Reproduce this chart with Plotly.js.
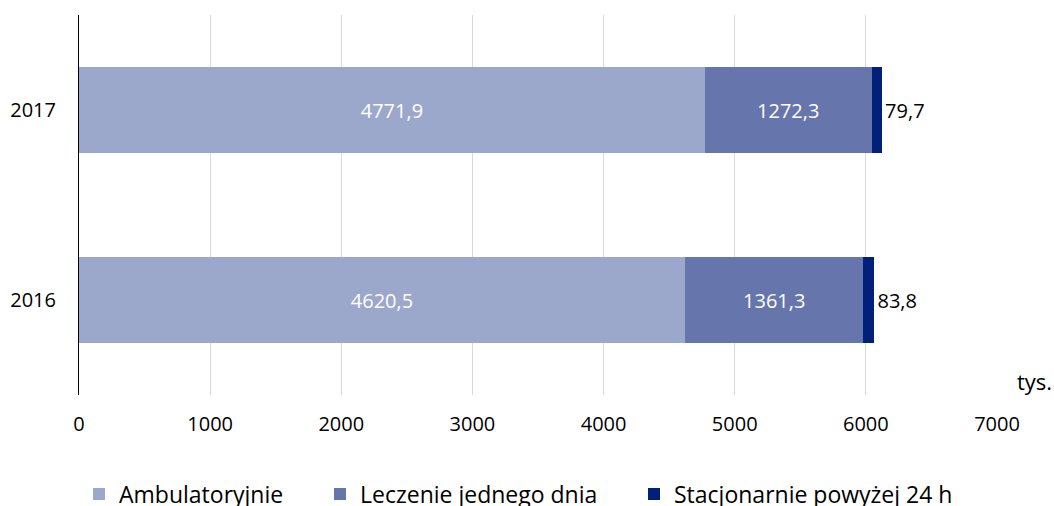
<!DOCTYPE html>
<html>
<head>
<meta charset="utf-8">
<script src="https://cdn.plot.ly/plotly-3.0.1.min.js"></script>
<style>html,body{margin:0;padding:0;background:#fff;}#chart{width:1054px;height:506px;}</style>
</head>
<body>
<div id="chart"></div>
<script>
var years = ["2016", "2017"];
var ambulatoryjnie = [4620.5, 4771.9];
var leczenieJednegoDnia = [1361.3, 1272.3];
var stacjonarnie = [83.8, 79.7];
var seriesNames = ["Ambulatoryjnie", "Leczenie jednego dnia", "Stacjonarnie powyżej 24 h"];
var xTicks = [0, 1000, 2000, 3000, 4000, 5000, 6000, 7000];

var FONT = "Open Sans, DejaVu Sans, sans-serif";
var colors = ["#9ba7cb", "#6676ad", "#00207a"];

var traces = [
  {type: "bar", orientation: "h", name: seriesNames[0], y: years, x: ambulatoryjnie, legend: "legend",
   marker: {color: colors[0]}, texttemplate: "%{x:.1f}", textposition: "inside", insidetextanchor: "middle",
   textfont: {color: "#ffffff", size: 20, family: FONT}, hoverinfo: "x+name"},
  {type: "bar", orientation: "h", name: seriesNames[1], y: years, x: leczenieJednegoDnia, legend: "legend2",
   marker: {color: colors[1]}, texttemplate: "%{x:.1f}", textposition: "inside", insidetextanchor: "middle",
   textfont: {color: "#ffffff", size: 20, family: FONT}, hoverinfo: "x+name"},
  {type: "bar", orientation: "h", name: seriesNames[2], y: years, x: stacjonarnie, legend: "legend3",
   marker: {color: colors[2]}, texttemplate: "%{x:.1f}", textposition: "outside", cliponaxis: false,
   textfont: {color: "#000000", size: 20, family: FONT}, hoverinfo: "x+name"}
];

function legendAt(px) {
  return {orientation: "h", xref: "paper", x: (px - 79) / 918, xanchor: "left",
          yref: "container", y: 1 - 494 / 506, yanchor: "middle",
          font: {size: 23, family: FONT, color: "#000"}, itemwidth: 30, bgcolor: "rgba(0,0,0,0)"};
}

var layout = {
  width: 1054, height: 506,
  margin: {l: 79, r: 57, t: 15, b: 111, autoexpand: false},
  barmode: "stack",
  bargap: 0.55,
  separators: ", ",
  font: {family: FONT, size: 20, color: "#000"},
  paper_bgcolor: "#fff", plot_bgcolor: "#fff",
  showlegend: true,
  legend: legendAt(79),
  legend2: legendAt(320),
  legend3: legendAt(634),
  xaxis: {range: [0, 7000], tickvals: xTicks, ticktext: xTicks.map(String), showgrid: true, gridcolor: "#d9d9d9", gridwidth: 1,
          zeroline: false, showline: false, ticks: "", ticklabelstandoff: 15, tickfont: {size: 20, family: FONT}, fixedrange: true},
  yaxis: {type: "category", categoryorder: "array", categoryarray: years, range: [-0.5, 1.5],
          showline: true, linecolor: "#000", linewidth: 1, showgrid: false, zeroline: false, ticks: "",
          ticklabelstandoff: 18, tickfont: {size: 20, family: FONT}, fixedrange: true},
  annotations: [{text: "tys.", xref: "paper", yref: "paper", x: (1034 - 79) / 918, y: (395 - 381) / 380, xanchor: "center", yanchor: "middle",
                 showarrow: false, font: {size: 22, family: FONT}}]
};

Plotly.newPlot("chart", traces, layout, {displayModeBar: false, staticPlot: true});
</script>
</body>
</html>
